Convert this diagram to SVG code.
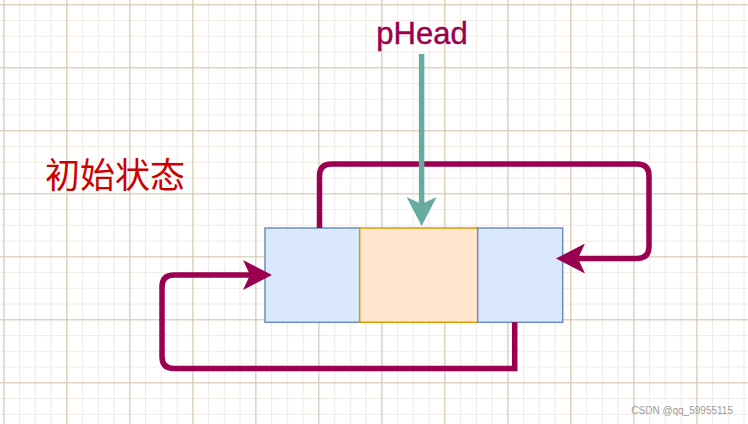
<svg xmlns="http://www.w3.org/2000/svg" width="748" height="424" viewBox="0 0 748 424">
  <style>
    .blue { fill: #dae8fc; stroke: #6c8ebf; stroke-width: 1.5; }
    .orange { fill: #ffe6cc; stroke: #d79b00; stroke-width: 1.5; }
    .link { fill: none; stroke: #9a004f; stroke-width: 5.5; stroke-linejoin: round; }
    .ptr { fill: none; stroke: #67ab9f; stroke-width: 5.5; }
  </style>
  <defs>
    <pattern id="minor" patternUnits="userSpaceOnUse" x="3.3" y="4.3" width="15.75" height="15.75">
      <path d="M0.5,0 V15.75 M0,0.5 H15.75" stroke="#f0ebe4" stroke-width="1.2" fill="none"/>
    </pattern>
    <pattern id="major" patternUnits="userSpaceOnUse" x="3.3" y="4.3" width="63" height="63">
      <path d="M0.5,0 V63 M0,0.5 H63" stroke="#d8c7b2" stroke-width="1.2" fill="none"/>
    </pattern>
    <marker id="arrCrimson" markerUnits="userSpaceOnUse" viewBox="0 0 30 30" refX="7" refY="15" markerWidth="30" markerHeight="30" orient="auto">
      <path d="M0,0 L29,15 L0,30 L7,15 Z" fill="#9a004f"/>
    </marker>
    <marker id="arrTeal" markerUnits="userSpaceOnUse" viewBox="0 0 30 30" refX="7" refY="15" markerWidth="30" markerHeight="30" orient="auto">
      <path d="M0,0 L29,15 L0,30 L7,15 Z" fill="#67ab9f"/>
    </marker>
  </defs>

  <rect width="748" height="424" fill="#ffffff"/>
  <rect width="748" height="424" fill="url(#minor)"/>
  <rect width="748" height="424" fill="url(#major)"/>

  <g id="node-prev">
    <rect class="blue" x="265" y="228" width="94.7" height="94.3"/>
  </g>
  <g id="node-data">
    <rect class="orange" x="359.7" y="228" width="118" height="94.3"/>
  </g>
  <g id="node-next">
    <rect class="blue" x="477.7" y="228" width="85" height="94.3"/>
  </g>

  <g id="connectors">
    <path class="link" d="M319.5,228 V176 Q319.5,164 331.5,164 H637 Q649,164 649,176 V246.5 Q649,258.5 637,258.5 H578" marker-end="url(#arrCrimson)"/>
    <path class="link" style="stroke-linejoin:miter" d="M514.7,322.3 V368.5 H174 Q162,368.5 162,356.5 V287 Q162,275 174,275 H250" marker-end="url(#arrCrimson)"/>
    <path class="ptr" d="M421.6,54 V204" marker-end="url(#arrTeal)"/>
  </g>

  <g id="label-phead">
    <text x="422" y="44.3" text-anchor="middle" font-family="'Liberation Sans',sans-serif" font-size="31" fill="#99004d" stroke="#99004d" stroke-width="0.4">pHead</text>
  </g>
  <g id="label-state">
    <text x="45" y="188" font-family="'Noto Sans CJK SC',sans-serif" font-size="35" fill="#cc0000">初始状态</text>
  </g>
  <text x="733" y="414" text-anchor="end" font-family="'Liberation Sans',Arial,sans-serif" font-size="10" fill="#9a9a9a">CSDN @qq_59955115</text>
</svg>
